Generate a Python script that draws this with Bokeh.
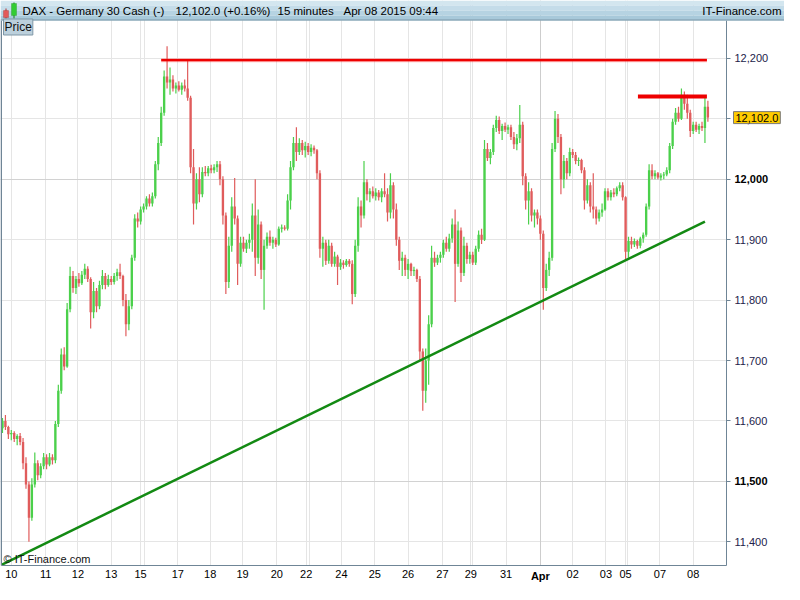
from bokeh.plotting import figure
from bokeh.models import (ColumnDataSource, FixedTicker, Label, BoxAnnotation,
                          Grid, NumeralTickFormatter, Range1d)
from bokeh.embed import file_html
from bokeh.resources import INLINE

# ---------------- data (15-minute DAX candles, sampled) ----------------
opens = [
    11588, 11600, 11590, 11578, 11580, 11570, 11575, 11565, 11530, 11495,
    11440, 11495, 11530, 11510, 11525, 11540, 11528, 11540, 11535, 11595,
    11650, 11710, 11690, 11785, 11840, 11820, 11835, 11828, 11842, 11852,
    11835, 11780, 11815, 11790, 11825, 11840, 11825, 11835, 11830, 11840,
    11846, 11840, 11800, 11760, 11790, 11870, 11935, 11930, 11950, 11955,
    11968, 11960, 11972, 12025, 12060, 12110, 12170, 12160, 12165, 12150,
    12155, 12148, 12155, 12150, 12135, 12020, 11960, 12000, 11975, 12012,
    12010, 12018, 12015, 12020, 12025, 12000, 11940, 11830, 11890, 11955,
    11935, 11860, 11895, 11885, 11895, 11900, 11940, 11870, 11925, 11850,
    11890, 11905, 11895, 11900, 11892, 11918, 11920, 11918, 11965, 12020,
    12060, 12045, 12060, 12048, 12055, 12045, 12052, 12048, 12010, 11885,
    11895, 11865, 11890, 11860, 11872, 11855, 11862, 11858, 11865, 11860,
    11810, 11890, 11955, 11940, 11995, 11975, 11980, 11972, 11978, 11970,
    11980, 11975, 11945, 11990, 11950, 11900, 11865, 11870, 11850, 11860,
    11848, 11850, 11835, 11715, 11650, 11700, 11760, 11870, 11862, 11870,
    11875, 11895, 11885, 11902, 11925, 11860, 11915, 11845, 11890, 11868,
    11875, 11862, 11885, 11908, 11900, 12050, 12035, 12045, 12085, 12098,
    12080, 12088, 12082, 12086, 12070, 12058, 12068, 12090, 12005, 11965,
    11980, 11940, 11945, 11935, 11910, 11820, 11850, 11870, 12050, 12100,
    12070, 12000, 12030, 12010, 12045, 12040, 12030, 12032, 12015, 11965,
    11990, 11955, 11950, 11935, 11945, 11950, 11980, 11970, 11978, 11975,
    11985, 11990, 11970, 11880, 11898, 11892, 11898, 11890, 11902, 11908,
    11955, 12015, 12005, 12010, 12003, 12006, 12008, 12015, 12055, 12095,
    12110, 12100, 12140, 12125, 12110, 12080, 12090, 12082, 12088, 12085,
    12120,
]
highs = [
    11605, 11610, 11592, 11585, 11583, 11578, 11580, 11572, 11540, 11500,
    11505, 11548, 11535, 11530, 11547, 11545, 11547, 11545, 11600, 11660,
    11720, 11722, 11795, 11855, 11848, 11840, 11845, 11848, 11860, 11856,
    11838, 11830, 11820, 11832, 11850, 11845, 11842, 11840, 11845, 11852,
    11860, 11842, 11810, 11800, 11875, 11942, 11945, 11955, 11960, 11972,
    11975, 11978, 12030, 12070, 12120, 12180, 12220, 12185, 12172, 12160,
    12162, 12160, 12165, 12196, 12138, 12050, 12010, 12020, 12020, 12022,
    12022, 12024, 12025, 12030, 12030, 12005, 11945, 11905, 11970, 12002,
    11940, 11905, 11905, 11900, 11910, 11960, 12000, 11950, 11930, 11900,
    11912, 11915, 11905, 11903, 11922, 11925, 11924, 11975, 12030, 12070,
    12086, 12068, 12065, 12062, 12060, 12058, 12056, 12050, 12015, 11905,
    11900, 11900, 11895, 11880, 11875, 11868, 11866, 11868, 11868, 11866,
    11900, 11970, 11965, 12030, 12000, 11985, 11988, 11985, 11982, 11985,
    12010, 11985, 12010, 11995, 11960, 11905, 11880, 11875, 11868, 11862,
    11855, 11852, 11840, 11720, 11720, 11775, 11890, 11880, 11875, 11880,
    11900, 11905, 11910, 11935, 11950, 11930, 11920, 11905, 11895, 11880,
    11880, 11890, 11915, 11918, 12065, 12060, 12050, 12090, 12105, 12104,
    12092, 12094, 12090, 12090, 12078, 12075, 12123, 12095, 12010, 11995,
    11985, 11950, 11950, 11940, 11915, 11860, 11880, 12060, 12113, 12108,
    12075, 12040, 12035, 12052, 12050, 12045, 12036, 12034, 12020, 12000,
    11995, 12010, 11955, 11950, 11960, 11985, 11985, 11982, 11985, 11988,
    11995, 11995, 11972, 11905, 11905, 11902, 11900, 11905, 11912, 11960,
    12025, 12025, 12015, 12012, 12010, 12012, 12020, 12060, 12100, 12118,
    12120, 12150, 12145, 12140, 12115, 12095, 12095, 12092, 12095, 12135,
    12130,
]
lows = [
    11580, 11585, 11570, 11568, 11565, 11560, 11560, 11520, 11488, 11400,
    11435, 11490, 11502, 11505, 11520, 11520, 11525, 11528, 11530, 11590,
    11645, 11684, 11688, 11780, 11812, 11810, 11822, 11825, 11835, 11830,
    11753, 11770, 11780, 11785, 11818, 11818, 11822, 11825, 11826, 11832,
    11835, 11790, 11740, 11750, 11785, 11865, 11920, 11925, 11945, 11950,
    11955, 11955, 11968, 12015, 12055, 12105, 12150, 12140, 12145, 12142,
    12145, 12140, 12145, 12130, 12010, 11925, 11950, 11962, 11970, 12005,
    12005, 12010, 12010, 12012, 11990, 11925, 11810, 11820, 11880, 11925,
    11825, 11855, 11880, 11878, 11885, 11880, 11840, 11860, 11835, 11784,
    11885, 11890, 11885, 11888, 11890, 11912, 11915, 11915, 11950, 12015,
    12030, 12040, 12040, 12036, 12040, 12038, 12042, 12000, 11870, 11855,
    11858, 11860, 11855, 11855, 11825, 11850, 11852, 11855, 11855, 11793,
    11805, 11880, 11920, 11935, 11965, 11962, 11968, 11965, 11965, 11962,
    11970, 11930, 11935, 11935, 11890, 11850, 11840, 11840, 11835, 11840,
    11840, 11830, 11700, 11617, 11630, 11660, 11755, 11855, 11858, 11862,
    11870, 11880, 11880, 11895, 11797, 11855, 11830, 11840, 11860, 11860,
    11858, 11858, 11880, 11893, 11898, 12030, 12025, 12040, 12078, 12075,
    12065, 12078, 12075, 12065, 12050, 12048, 12060, 11990, 11950, 11925,
    11930, 11920, 11925, 11900, 11784, 11815, 11840, 11865, 12045, 12060,
    11975, 11985, 12000, 12005, 12035, 12025, 12022, 12010, 11950, 11960,
    11945, 11935, 11925, 11930, 11938, 11948, 11965, 11965, 11970, 11972,
    11980, 11965, 11865, 11870, 11885, 11888, 11885, 11886, 11895, 11905,
    11950, 12000, 12000, 12000, 11998, 12000, 12005, 12010, 12050, 12090,
    12095, 12098, 12115, 12100, 12070, 12075, 12078, 12075, 12080, 12060,
    12095,
]
closes = [
    11600, 11590, 11578, 11580, 11570, 11575, 11565, 11530, 11495, 11440,
    11495, 11530, 11510, 11525, 11540, 11528, 11540, 11535, 11595, 11650,
    11710, 11690, 11785, 11840, 11820, 11835, 11828, 11842, 11852, 11835,
    11780, 11815, 11790, 11825, 11840, 11825, 11835, 11830, 11840, 11846,
    11840, 11800, 11760, 11790, 11870, 11935, 11930, 11950, 11955, 11968,
    11960, 11972, 12025, 12060, 12110, 12170, 12160, 12165, 12150, 12155,
    12148, 12155, 12150, 12135, 12020, 11960, 12000, 11975, 12012, 12010,
    12018, 12015, 12020, 12025, 12000, 11940, 11830, 11890, 11955, 11935,
    11860, 11895, 11885, 11895, 11900, 11940, 11870, 11925, 11850, 11890,
    11905, 11895, 11900, 11892, 11918, 11920, 11918, 11965, 12020, 12060,
    12045, 12060, 12048, 12055, 12045, 12052, 12048, 12010, 11885, 11895,
    11865, 11890, 11860, 11872, 11855, 11862, 11858, 11865, 11860, 11810,
    11890, 11955, 11940, 11995, 11975, 11980, 11972, 11978, 11970, 11980,
    11975, 11945, 11990, 11950, 11900, 11865, 11870, 11850, 11860, 11848,
    11850, 11835, 11715, 11650, 11700, 11760, 11870, 11862, 11870, 11875,
    11895, 11885, 11902, 11925, 11860, 11915, 11845, 11890, 11868, 11875,
    11862, 11885, 11908, 11900, 12050, 12035, 12045, 12085, 12098, 12080,
    12088, 12082, 12086, 12070, 12058, 12068, 12090, 12005, 11965, 11980,
    11940, 11945, 11935, 11910, 11820, 11850, 11870, 12050, 12100, 12070,
    12000, 12030, 12010, 12045, 12040, 12030, 12032, 12015, 11965, 11990,
    11955, 11950, 11935, 11945, 11950, 11980, 11970, 11978, 11975, 11985,
    11990, 11970, 11880, 11898, 11892, 11898, 11890, 11902, 11908, 11955,
    12015, 12005, 12010, 12003, 12006, 12008, 12015, 12055, 12095, 12110,
    12100, 12140, 12125, 12110, 12080, 12090, 12082, 12088, 12085, 12120,
    12102,
]

# session starts (bar index units) and their labels
day_pos = [3.0, 14.67, 25.67, 37.0, 47.0, 48.33, 59.67, 70.67, 81.67, 93.33,
           103.33, 104.33, 115.33, 126.67, 138.0, 149.67, 159.33, 160.0,
           171.33, 183.0, 194.0, 205.33, 212.0, 212.67, 223.67, 235.0]
day_labels = ["10", "11", "12", "13", "15", "", "17", "18", "19", "20",
              "22", "", "24", "25", "26", "27", "29", "",
              "31", "Apr", "02", "03", "05", "", "07", "08"]
month_pos = 183.0
month_label = "Apr"

price_ticks = [11400, 11500, 11600, 11700, 11800, 11900, 12000, 12100, 12200]
bold_ticks = [12000, 11500]

# drawn trend / resistance lines
support_x = [-0.33, 239.0]
support_y = [11362, 11930]
resist1_x = [54.0, 239.67]
resist1_y = [12197, 12197]
resist2_x = [216.2, 239.67]
resist2_y = [12137, 12137]
last_price = 12102.0

# visible span of the chart area
X_LO, X_HI = -0.333, 246.333
Y_LO, Y_HI = 11360.8, 12262.7

# ---------------- layout (canvas pixels) ----------------
W, H = 784, 584
LEFT, RIGHT, TOP, BOTTOM = 1, 58, 20, 19
FR_R = W - RIGHT          # canvas x of chart-area right edge
FR_B = H - BOTTOM         # canvas y of chart-area bottom edge
kx = (FR_R - LEFT) / (X_HI - X_LO)
ky = (FR_B - TOP) / (Y_HI - Y_LO)

GREEN = "#4bd04b"
RED = "#e05c5c"
SLATE = "#6f8596"
FONT = "Liberation Sans"

p = figure(width=W, height=H,
           x_range=Range1d(X_LO - LEFT / kx, X_HI + RIGHT / kx),
           y_range=Range1d(Y_LO - BOTTOM / ky, Y_HI + TOP / ky),
           y_axis_location="right",
           output_backend="svg", toolbar_location=None,
           min_border_left=0, min_border_right=0,
           min_border_top=0, min_border_bottom=0)
p.title.visible = False
p.background_fill_color = "white"
p.border_fill_color = "white"
p.outline_line_color = None

# grids
p.xgrid.ticker = FixedTicker(ticks=day_pos)
p.ygrid.ticker = FixedTicker(ticks=price_ticks)
p.xgrid.grid_line_color = "#e5e5e5"
p.ygrid.grid_line_color = "#e5e5e5"
p.add_layout(Grid(dimension=0, ticker=FixedTicker(ticks=[month_pos]),
                  grid_line_color="#cdcdcd"))
p.add_layout(Grid(dimension=1, ticker=FixedTicker(ticks=bold_ticks),
                  grid_line_color="#d2d2d2"))

# axes (pinned to the edges of the chart area)
xa = p.xaxis[0]
xa.fixed_location = Y_LO
xa.bounds = (X_LO, X_HI)
xa.ticker = FixedTicker(ticks=day_pos)
xa.major_label_overrides = {pos: ("" if lab == month_label else lab)
                            for pos, lab in zip(day_pos, day_labels)}
xa.major_tick_line_color = None
xa.major_tick_in = 0
xa.major_tick_out = 0
xa.minor_tick_line_color = None
xa.axis_line_color = SLATE
xa.major_label_standoff = 4
xa.major_label_text_font = FONT
xa.major_label_text_font_size = "11px"
xa.major_label_text_color = "black"

ya = p.yaxis[0]
ya.fixed_location = X_HI
ya.bounds = (Y_LO, Y_HI)
ya.ticker = FixedTicker(ticks=price_ticks)
ya.formatter = NumeralTickFormatter(format="0,0")
ya.major_label_overrides = {t: "" for t in bold_ticks}
ya.major_tick_in = 0
ya.major_tick_out = 4
ya.major_tick_line_color = SLATE
ya.minor_tick_line_color = None
ya.axis_line_color = SLATE
ya.major_label_standoff = 4
ya.major_label_text_font = FONT
ya.major_label_text_font_size = "11px"
ya.major_label_text_color = "#22224a"


def canvas_box(l, r, t, b, **kw):
    return BoxAnnotation(left=l, right=r, top=t, bottom=b,
                         left_units="canvas", right_units="canvas",
                         top_units="canvas", bottom_units="canvas",
                         fill_alpha=1, **kw)


# white masks outside the chart area (hide grid lines there)
p.add_layout(canvas_box(FR_R, W, 0, H, fill_color="white", line_color=None,
                        level="glyph"))
p.add_layout(canvas_box(0, W, FR_B, H, fill_color="white", line_color=None,
                        level="glyph"))
# left border line
p.add_layout(canvas_box(0, 1.5, TOP, FR_B, fill_color=SLATE, line_color=None,
                        level="guide"))

# candles
idx = list(range(len(closes)))
colors = [GREEN if c >= o else RED for o, c in zip(opens, closes)]
src = ColumnDataSource(dict(
    x=idx, h=highs, l=lows,
    top=[max(o, c) for o, c in zip(opens, closes)],
    bottom=[min(o, c) for o, c in zip(opens, closes)],
    color=colors))
p.segment(x0="x", y0="h", x1="x", y1="l", source=src,
          line_color="color", line_width=1.2)
p.vbar(x="x", width=0.8, top="top", bottom="bottom", source=src,
       fill_color="color", line_color=None)

# trend lines
p.line(support_x, support_y, line_color="#138a13", line_width=2.5)
p.line(resist1_x, resist1_y, line_color="#ff3030", line_width=4, line_alpha=0.35)
p.line(resist1_x, resist1_y, line_color="#ee0000", line_width=2.2)
p.line(resist2_x, resist2_y, line_color="#ee0000", line_width=4)

# bold tick labels
for t in bold_ticks:
    p.add_layout(Label(x=FR_R + 8, y=t, x_units="canvas", y_units="data",
                       text=f"{t:,}", text_font=FONT, text_font_size="11px",
                       text_font_style="bold", text_color="black",
                       text_baseline="middle", text_align="left"))
p.add_layout(Label(x=month_pos, y=FR_B + 4, x_units="data", y_units="canvas",
                   text=month_label, text_font=FONT, text_font_size="11px",
                   text_font_style="bold", text_color="black",
                   text_baseline="top", text_align="center"))

# last price tag
p.add_layout(Label(x=FR_R + 7, y=last_price, x_units="canvas", y_units="data",
                   text=f"{last_price:,.1f}", text_font=FONT, text_font_size="11px",
                   text_color="black", text_baseline="middle", text_align="left",
                   background_fill_color="#ffcc00", border_line_color="#7a7a7a",
                   padding=2))

# header bar
bands = ["#d3e6ef", "#c4dce9", "#b6d3e2", "#a8c9da"]
for k, col in enumerate(bands):
    p.add_layout(canvas_box(0, W, k * 5, (k + 1) * 5, fill_color=col,
                            line_color=None))
p.add_layout(canvas_box(0, W, 19, 20, fill_color="#7d97a7", line_color=None))
# logo
for (l, r, t, b, fc, lc) in [(5, 6, 8, 18, "#b03030", None),
                             (3, 8, 10, 17, "#e35a5a", "#a02020"),
                             (13, 14, 2, 18, "#118811", None),
                             (11, 16, 3, 15, "#33cc33", "#118811")]:
    p.add_layout(canvas_box(l, r, t, b, fill_color=fc, line_color=lc))

header_texts = [(22, "DAX - Germany 30 Cash (-)", "left"),
                (175, "12,102.0 (+0.16%)", "left"),
                (277, "15 minutes", "left"),
                (343, "Apr 08 2015 09:44", "left"),
                (781, "IT-Finance.com", "right")]
for x, txt, al in header_texts:
    p.add_layout(Label(x=x, y=10.5, x_units="canvas", y_units="canvas",
                       text=txt, text_font=FONT, text_font_size="11.5px",
                       text_color="black", text_baseline="middle", text_align=al))

p.add_layout(Label(x=3, y=26.5, x_units="canvas", y_units="canvas",
                   text="Price", text_font=FONT, text_font_size="12px",
                   text_color="#111111", text_baseline="middle", text_align="left",
                   background_fill_color="#bcd0dc", border_line_color="#7f97a7",
                   padding=1))
p.add_layout(Label(x=3, y=FR_B - 7, x_units="canvas", y_units="canvas",
                   text="\u00a9 IT-Finance.com", text_font=FONT,
                   text_font_size="11px", text_color="#111111",
                   text_baseline="middle", text_align="left"))

open("out.html", "w").write(file_html(p, INLINE))
